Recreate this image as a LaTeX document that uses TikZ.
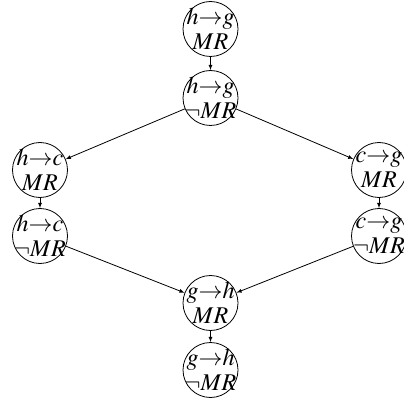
\documentclass[tikz,border=0pt]{standalone}
\usepackage{mathptmx}
\usepackage{tikz}
\usetikzlibrary{arrows}
\tikzstyle{state}=[circle,draw=black,fill=white,inner sep=-20pt,minimum size=55pt,align=center,font=\fontsize{24}{25}\selectfont]
\tikzstyle{arrow}=[->,>=latex]
\tikzset{every picture/.style={
    line width=0.8
  }
}
\begin{document}
\begin{tikzpicture}[x=1pt,y=-1pt]
      \useasboundingbox (0,0) rectangle (404,398);
      \node[state] at (210.5,29) (hgmr) {$h{\rightarrow}g$\\$MR$};
      \node[state] at (210.5,98) (hgnmr) {$h{\rightarrow}g$\\$\neg MR$};
      \node[state] at (40,170) (hcmr) {$h{\rightarrow}c$\\$MR$};
      \node[state] at (40,236) (hcnmr) {$h{\rightarrow}c$\\$\neg MR$};
      \node[state] at (379,170) (cgmr) {$c{\rightarrow}g$\\$MR$};
      \node[state] at (379,236) (cgnmr) {$c{\rightarrow}g$\\$\neg MR$};
      \node[state] at (210.5,303) (ghmr) {$g{\rightarrow}h$\\$MR$};
      \node[state] at (210.5,370) (ghnmr) {$g{\rightarrow}h$\\$\neg MR$};
      \draw[arrow] (hgmr)--(hgnmr);
      \draw[arrow] (hgnmr)--(hcmr);
      \draw[arrow] (hgnmr)--(cgmr);
      \draw[arrow] (hcmr)--(hcnmr);
      \draw[arrow] (cgmr)--(cgnmr);
      \draw[arrow] (hcnmr)--(ghmr);
      \draw[arrow] (cgnmr)--(ghmr);
      \draw[arrow] (ghmr)--(ghnmr);
    \end{tikzpicture}
\end{document}
